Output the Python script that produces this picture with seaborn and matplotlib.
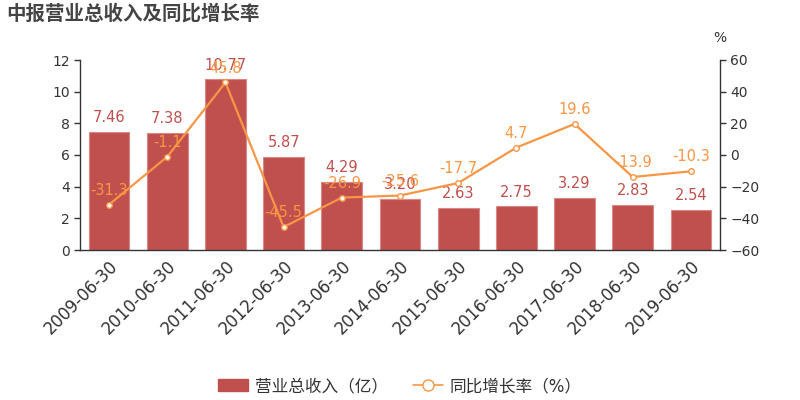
import matplotlib
matplotlib.use("Agg")
import matplotlib.pyplot as plt
import seaborn as sns
import pandas as pd
from matplotlib.lines import Line2D
from matplotlib.patches import Patch

categories = ["2009-06-30", "2010-06-30", "2011-06-30", "2012-06-30", "2013-06-30",
              "2014-06-30", "2015-06-30", "2016-06-30", "2017-06-30", "2018-06-30", "2019-06-30"]
revenue = [7.46, 7.38, 10.77, 5.87, 4.29, 3.20, 2.63, 2.75, 3.29, 2.83, 2.54]
growth = [-31.3, -1.1, 45.8, -45.5, -26.9, -25.6, -17.7, 4.7, 19.6, -13.9, -10.3]
rev_labels = ["7.46", "7.38", "10.77", "5.87", "4.29", "3.20", "2.63", "2.75", "3.29", "2.83", "2.54"]
gr_labels = ["-31.3", "-1.1", "45.8", "-45.5", "-26.9", "-25.6", "-17.7", "4.7", "19.6", "-13.9", "-10.3"]

sns.set_style("white")
plt.rcParams['font.family'] = ['DejaVu Sans', 'Noto Sans CJK SC']

bar_color = "#c0504d"
line_color = "#f79646"
text_color = "#333333"

df = pd.DataFrame({"cat": categories, "rev": revenue, "gr": growth})

fig = plt.figure(figsize=(8, 4), dpi=100)
ax = fig.add_axes([0.1, 0.375, 0.8, 0.475])
sns.barplot(data=df, x="cat", y="rev", color=bar_color, saturation=1, width=0.7,
            edgecolor="#d98885", linewidth=0.8, ax=ax)
ax.set_ylim(0, 12)
ax.set_yticks([0, 2, 4, 6, 8, 10, 12])
ax.set_xlabel("")
ax.set_ylabel("")
ax.set_xlim(-0.5, len(categories) - 0.5)

ax2 = ax.twinx()
sns.lineplot(x=list(range(len(categories))), y=growth, color=line_color, linewidth=1.6,
             marker="o", markersize=4, markerfacecolor="white", markeredgecolor=line_color,
             markeredgewidth=1, ax=ax2)
ax2.set_ylim(-60, 60)
ax2.set_yticks([-60, -40, -20, 0, 20, 40, 60])

for i, (v, s) in enumerate(zip(revenue, rev_labels)):
    ax.annotate(s, (i, v), xytext=(0, 5), textcoords="offset points", ha="center", va="bottom",
                color=bar_color, fontsize=10.5)
for i, (v, s) in enumerate(zip(growth, gr_labels)):
    ax2.annotate(s, (i, v), xytext=(0, 5), textcoords="offset points", ha="center", va="bottom",
                 color=line_color, fontsize=10.5)

for a in (ax, ax2):
    a.spines["top"].set_visible(False)
    for sp in ("left", "right", "bottom"):
        a.spines[sp].set_color(text_color)
        a.spines[sp].set_linewidth(1)
    a.tick_params(axis="both", colors=text_color, labelsize=10, length=4, width=1, direction="out")
ax.spines["right"].set_visible(False)
ax2.spines["left"].set_visible(False)
ax2.spines["bottom"].set_visible(False)
ax.tick_params(axis="x", labelsize=12, pad=1)
plt.setp(ax.get_xticklabels(), rotation=45, ha="right", rotation_mode="anchor")

fig.text(0.008, 0.965, "中报营业总收入及同比增长率", fontsize=14, fontweight="bold",
         color="#444444", ha="left", va="center")
fig.text(0.9, 0.905, "%", fontsize=10, color=text_color, ha="center", va="center")

handles = [Patch(facecolor=bar_color, edgecolor=bar_color, label="营业总收入（亿）"),
           Line2D([0], [0], color=line_color, marker="o", markersize=8, markerfacecolor="white",
                  markeredgecolor=line_color, linewidth=1.2, label="同比增长率（%）")]
fig.legend(handles=handles, loc="center", bbox_to_anchor=(0.5, 0.035), ncol=2, frameon=False,
           fontsize=12, handlelength=1.8, columnspacing=1.5, handletextpad=0.4,
           labelcolor="#333333")

fig.savefig("out.png", dpi=100)
